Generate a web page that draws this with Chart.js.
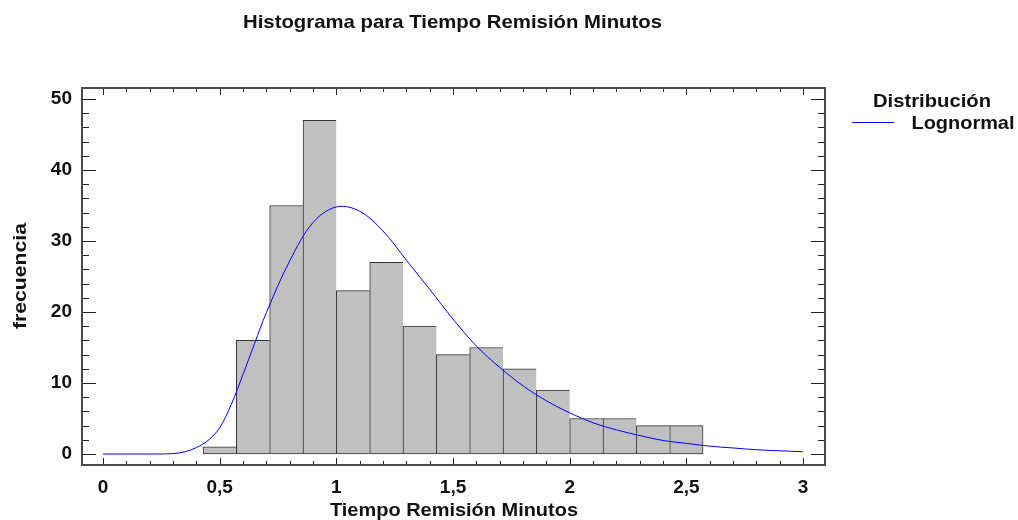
<!DOCTYPE html>
<html>
<head>
<meta charset="utf-8">
<script src="https://cdn.jsdelivr.net/npm/chart.js@4.4.1/dist/chart.umd.min.js"></script>
<style>
  body { margin: 0; background: #fff; }
</style>
</head>
<body>
<canvas id="histograma" width="1018" height="520"></canvas>
<script>
// Bordes de las clases del histograma (minutos) y frecuencias leídas
const bordesClase = [0.4286, 0.5714, 0.7143, 0.8571, 1.0, 1.1429, 1.2857, 1.4286,
                     1.5714, 1.7143, 1.8571, 2.0, 2.1429, 2.2857, 2.4286, 2.5714];
const frecuencias = [1, 16, 35, 47, 23, 27, 18, 14, 15, 12, 9, 5, 5, 4, 4];

// Curva lognormal ajustada
const curvaX = [0, 0.1, 0.2, 0.3, 0.35, 0.4, 0.45, 0.5, 0.55, 0.6, 0.65, 0.7, 0.8, 0.9, 1.0, 1.1, 1.2,
                1.3, 1.4, 1.5, 1.6, 1.7, 1.8, 1.9, 2.0, 2.1, 2.2, 2.3, 2.4, 2.5,
                2.6, 2.7, 2.8, 2.9, 3.0];
const curvaY = [0, 0, 0, 0.05, 0.3, 0.9, 1.9, 3.7, 7.0, 11.2, 15.6, 19.9, 27.2, 32.6, 34.8, 34.2, 31.4,
                27.3, 23.2, 19.0, 15.2, 12.2, 9.6, 7.5, 5.8, 4.4, 3.4, 2.6, 1.9, 1.5,
                1.1, 0.85, 0.6, 0.45, 0.32];

const xTicks = [0, 0.5, 1, 1.5, 2, 2.5, 3];
const xTickLabels = ['0', '0,5', '1', '1,5', '2', '2,5', '3'];
const yTicks = [0, 10, 20, 30, 40, 50];
const yTickLabels = ['0', '10', '20', '30', '40', '50'];

const centros = frecuencias.map((f, i) => (bordesClase[i] + bordesClase[i + 1]) / 2);

function textoAjustado(ctx, texto, x, y, ancho) {
    // dibuja el texto estirado al ancho del original
    const w = ctx.measureText(texto).width;
    ctx.save();
    ctx.translate(x, y);
    ctx.scale(ancho / w, 1);
    ctx.fillText(texto, -w / 2, 0);
    ctx.restore();
}

const decoracion = {
    id: 'decoracion',
    afterDraw(chart) {
        const { ctx, chartArea: a, scales: { x, y } } = chart;
        ctx.save();
        // marcas interiores
        ctx.strokeStyle = '#222';
        ctx.lineWidth = 1;
        ctx.beginPath();
        for (let v = 0; v <= 50.001; v += 2) {
            const py = Math.round(y.getPixelForValue(v)) + 0.5;
            const largo = Math.abs(v % 10) < 0.01 ? 14 : 7;
            ctx.moveTo(a.left, py); ctx.lineTo(a.left + largo, py);
            ctx.moveTo(a.right, py); ctx.lineTo(a.right - largo, py);
        }
        for (let k = 0; k <= 30; k++) {
            const px = Math.round(x.getPixelForValue(k / 10)) + 0.5;
            const largo = k % 5 === 0 ? 7 : 4;
            ctx.moveTo(px, a.bottom); ctx.lineTo(px, a.bottom - largo);
            ctx.moveTo(px, a.top); ctx.lineTo(px, a.top + largo);
        }
        ctx.stroke();
        // marco
        ctx.strokeStyle = '#4a4a4a';
        ctx.lineWidth = 2;
        ctx.strokeRect(a.left, a.top, a.right - a.left, a.bottom - a.top);

        // textos
        ctx.fillStyle = '#111';
        ctx.font = 'bold 19px "Liberation Sans", Arial, sans-serif';
        ctx.textBaseline = 'alphabetic';
        textoAjustado(ctx, 'Histograma para Tiempo Remisión Minutos', 452.5, 28, 419);
        textoAjustado(ctx, 'Tiempo Remisión Minutos', 454, 516, 248);
        ctx.save();
        ctx.translate(26, 276);
        ctx.rotate(-Math.PI / 2);
        textoAjustado(ctx, 'frecuencia', 0, 0, 106);
        ctx.restore();

        // leyenda
        textoAjustado(ctx, 'Distribución', 932, 107, 118);
        textoAjustado(ctx, 'Lognormal', 963, 129, 103);
        ctx.strokeStyle = '#0000ff';
        ctx.lineWidth = 1;
        ctx.beginPath();
        ctx.moveTo(852, 122.5); ctx.lineTo(894, 122.5);
        ctx.stroke();
        ctx.restore();
    }
};

const ctx = document.getElementById('histograma').getContext('2d');
new Chart(ctx, {
    type: 'bar',
    data: {
        datasets: [
            {
                type: 'line',
                label: 'Lognormal',
                data: curvaX.map((v, i) => ({ x: v, y: curvaY[i] })),
                borderColor: '#0000ff',
                borderWidth: 1,
                pointRadius: 0,
                fill: false,
                tension: 0.35,
                order: 0
            },
            {
                label: 'frecuencia',
                data: centros.map((c, i) => ({ x: c, y: frecuencias[i] })),
                backgroundColor: '#c0c0c0',
                borderColor: '#333',
                borderWidth: c => ({ top: 1, left: 1, bottom: 1, right: c.dataIndex === frecuencias.length - 1 ? 1 : 0 }),
                borderSkipped: false,
                barPercentage: 1,
                categoryPercentage: 1,
                order: 1
            }
        ]
    },
    options: {
        responsive: false,
        animation: false,
        layout: { padding: { left: 0, top: 88, right: 193, bottom: 0 } },
        plugins: {
            legend: { display: false },
            tooltip: { enabled: false }
        },
        scales: {
            x: {
                type: 'linear',
                offset: false,
                min: -0.09,
                max: 3.094,
                grid: { display: false, drawTicks: false, offset: false },
                border: { display: false },
                afterBuildTicks: s => { s.ticks = xTicks.map(v => ({ value: v })); },
                afterFit: s => { s.height = 55; },
                ticks: {
                    padding: 11,
                    maxRotation: 0,
                    color: '#111',
                    font: { family: '"Liberation Sans", Arial, sans-serif', size: 19, weight: 'bold' },
                    callback: (v, i) => xTickLabels[i]
                }
            },
            y: {
                min: -1.55,
                max: 51.55,
                grid: { display: false, drawTicks: false },
                border: { display: false },
                afterBuildTicks: s => { s.ticks = yTicks.map(v => ({ value: v })); },
                afterFit: s => { s.width = 82; },
                ticks: {
                    padding: 10,
                    color: '#111',
                    font: { family: '"Liberation Sans", Arial, sans-serif', size: 19, weight: 'bold' },
                    callback: (v, i) => yTickLabels[i]
                }
            }
        }
    },
    plugins: [decoracion]
});
</script>
</body>
</html>
